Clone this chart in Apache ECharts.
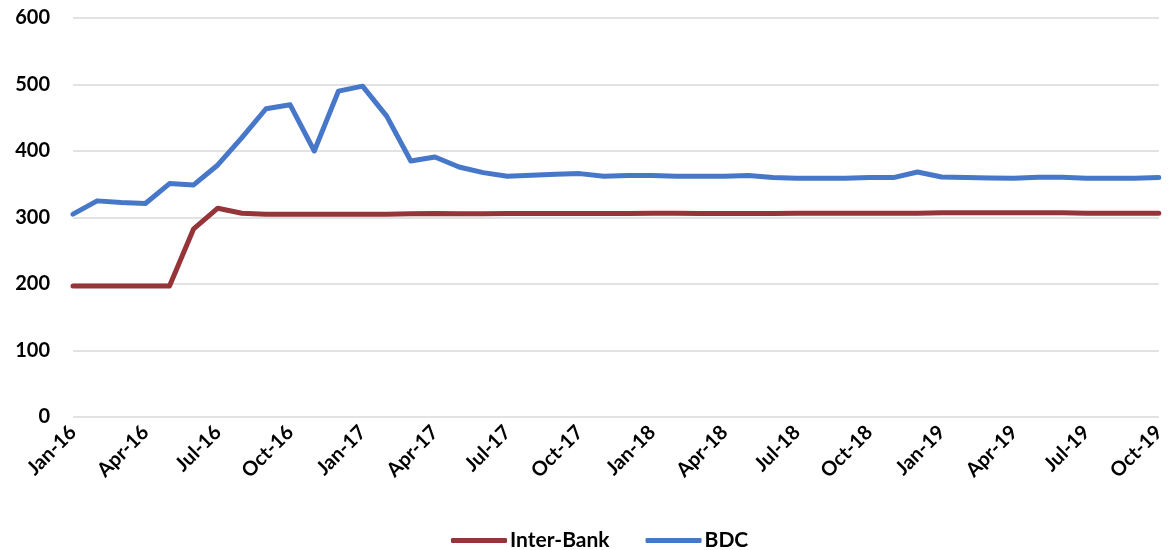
<!DOCTYPE html>
<html>
<head>
<meta charset="utf-8">
<script src="https://cdn.jsdelivr.net/npm/echarts@6/dist/echarts.min.js"></script>
<style>
html,body{margin:0;padding:0;background:#fff;}
#chart{width:1168px;height:550px;}
</style>
</head>
<body>
<div id="chart"></div>
<script>
const months = ['Jan','Feb','Mar','Apr','May','Jun','Jul','Aug','Sep','Oct','Nov','Dec'];
const categories = [];
for (let y = 16; y <= 19; y++) {
  for (let m = 0; m < 12; m++) {
    if (y === 19 && m > 9) break;
    categories.push(months[m] + '-' + y);
  }
}
const interBank = [197,197,197,197,197,283,314,306.5,305,305,305,305,
                   305,305,305.5,306,305.5,305.5,306,306,306,306,306,306,
                   306.5,306.5,306,306,306,306,306.5,306.5,306.5,306.5,306.5,306.5,
                   307,307,307,307,307,307,306.5,306.5,306.5,306.5];
const bdc = [305,325,322.5,321,351,349,379,420,463.5,469.5,400,490,
             497.5,452.5,385,391,376,367.5,362,363.5,365,366,362,363,
             363,362,362,362,363,360,359,359,359,360,360,368.5,
             361,360,359.5,359,360.5,360.5,359,359,359,360];
const yTicks = [0,100,200,300,400,500,600];

const chart = echarts.init(document.getElementById('chart'));
const fontFamily = 'Lato, "Open Sans", sans-serif';
chart.setOption({
  animation: false,
  grid: {left: 73, right: 6, top: 18, bottom: 133},
  legend: {
    bottom: -6,
    left: 446,
    itemWidth: 56,
    itemHeight: 5,
    itemGap: 36,
    icon: 'roundRect',
    textStyle: {fontFamily: fontFamily, fontWeight: 'bold', fontSize: 21, color: '#000', padding: [0,0,0,-2]},
    data: ['Inter-Bank','BDC']
  },
  xAxis: {
    type: 'category',
    data: categories,
    boundaryGap: false,
    axisLine: {show: false},
    axisTick: {show: false},
    axisLabel: {
      interval: 2,
      rotate: 45,
      margin: 12,
      fontFamily: fontFamily,
      fontWeight: 'bold',
      fontSize: 20,
      color: '#000'
    },
    splitLine: {show: false}
  },
  yAxis: {
    type: 'value',
    min: yTicks[0],
    max: yTicks[yTicks.length-1],
    interval: 100,
    axisLine: {show: false},
    axisTick: {show: false},
    axisLabel: {
      margin: 23,
      fontFamily: fontFamily,
      fontWeight: 'bold',
      fontSize: 20,
      color: '#000'
    },
    splitLine: {lineStyle: {color: '#d9d9d9', width: 1.5}}
  },
  series: [
    {name: 'Inter-Bank', type: 'line', data: interBank, symbol: 'none',
     lineStyle: {width: 5, color: '#953439', cap: 'round', join: 'round'}, itemStyle: {color: '#953439'}},
    {name: 'BDC', type: 'line', data: bdc, symbol: 'none',
     lineStyle: {width: 5, color: '#4677C8', cap: 'round', join: 'round'}, itemStyle: {color: '#4677C8'}}
  ]
});
</script>
</body>
</html>
